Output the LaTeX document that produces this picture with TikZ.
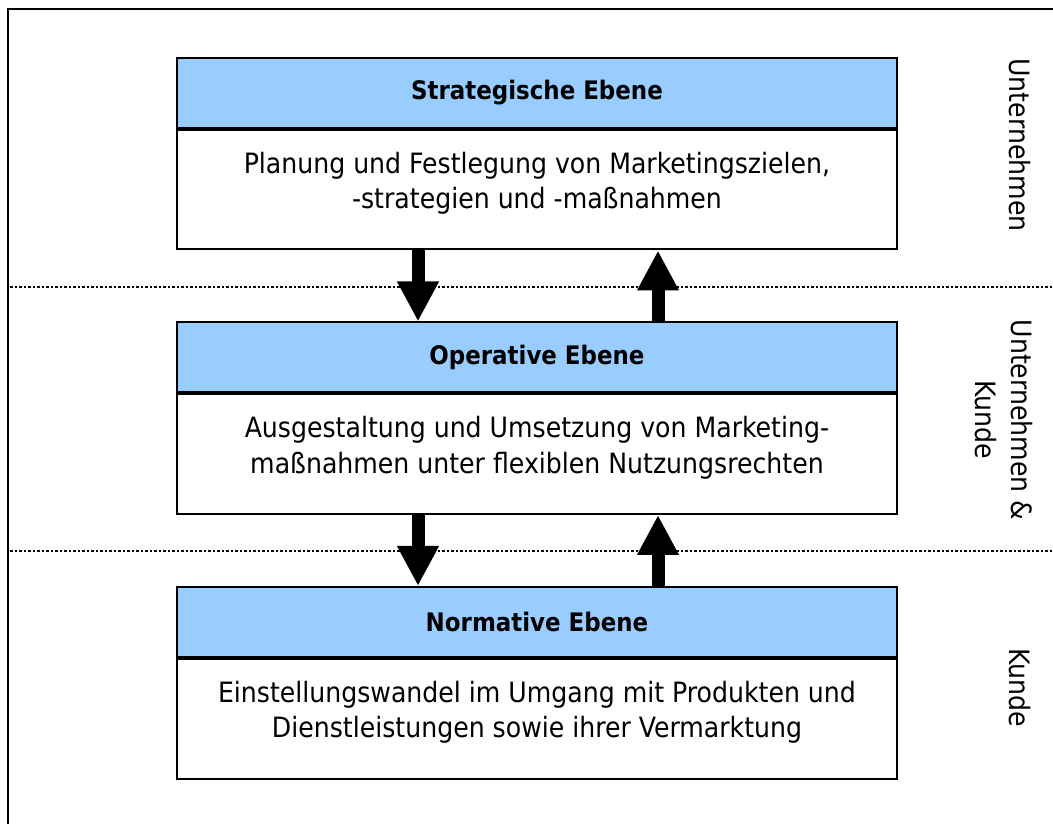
\documentclass[tikz,border=0pt]{standalone}
\usepackage{fontspec}
\setmainfont{DejaVu Sans Condensed}
\usetikzlibrary{arrows.meta,positioning}
\definecolor{ebeneblau}{HTML}{99CCFF}

\begin{document}
\begin{tikzpicture}[x=1pt,y=1pt,line width=2pt,node distance=71pt,
  head node/.style={rectangle,draw,fill=ebeneblau,minimum width=720pt,minimum height=70pt,font=\fontsize{25.5}{33}\selectfont\bfseries},
  body node/.style={rectangle,draw,fill=white,minimum width=720pt,minimum height=119.5pt,align=center,text depth=19pt,font=\fontsize{28}{35.5}\selectfont},
  side node/.style={rotate=-90,align=center,font=\fontsize{28}{36}\selectfont},
  ebene arrow/.style={line width=13pt,-{Triangle[length=40pt,width=39pt]}}]

  \useasboundingbox (0,0) rectangle (1053,823);

  % frame and separators
  \draw (8,-10) -- (8,814) -- (1063,814);
  \coordinate (sep1l) at (10,536);
  \coordinate (sep1r) at (1060,536);
  \coordinate (sep2l) at (10,272);
  \coordinate (sep2r) at (1060,272);
  \draw[dash pattern=on 2.5pt off 2pt] (sep1l) -- (sep1r);
  \draw[dash pattern=on 2.5pt off 2pt] (sep2l) -- (sep2r);

  \node[head node] (head1) at (537,730) {Strategische Ebene};
  \node[body node] (body1) [below=0pt of head1] {Planung und Festlegung von Marketingszielen,\\-strategien und -maßnahmen};

  \node[head node] (head2) [below=of body1] {Operative Ebene};
  \node[body node] (body2) [below=0pt of head2] {Ausgestaltung und Umsetzung von Marketing-\\maßnahmen unter flexiblen Nutzungsrechten};

  \node[head node] (head3) [below=of body2] {Normative Ebene};
  \node[body node] (body3) [below=0pt of head3] {Einstellungswandel im Umgang mit Produkten und\\Dienstleistungen sowie ihrer Vermarktung};

  \node[side node] (side1) at (1020,678) {Unternehmen};
  \node[side node] (side2) at (1004,403) {Unternehmen \&\\Kunde};
  \node[side node] (side3) at (1020,135) {Kunde};

  \draw[ebene arrow] ([xshift=-119pt]body1.south) -- ([xshift=-119pt]head2.north);
  \draw[ebene arrow] ([xshift=121pt]head2.north) -- ([xshift=121pt]body1.south);
  \draw[ebene arrow] ([xshift=-119pt]body2.south) -- ([xshift=-119pt]head3.north);
  \draw[ebene arrow] ([xshift=121pt]head3.north) -- ([xshift=121pt]body2.south);

\end{tikzpicture}
\end{document}
